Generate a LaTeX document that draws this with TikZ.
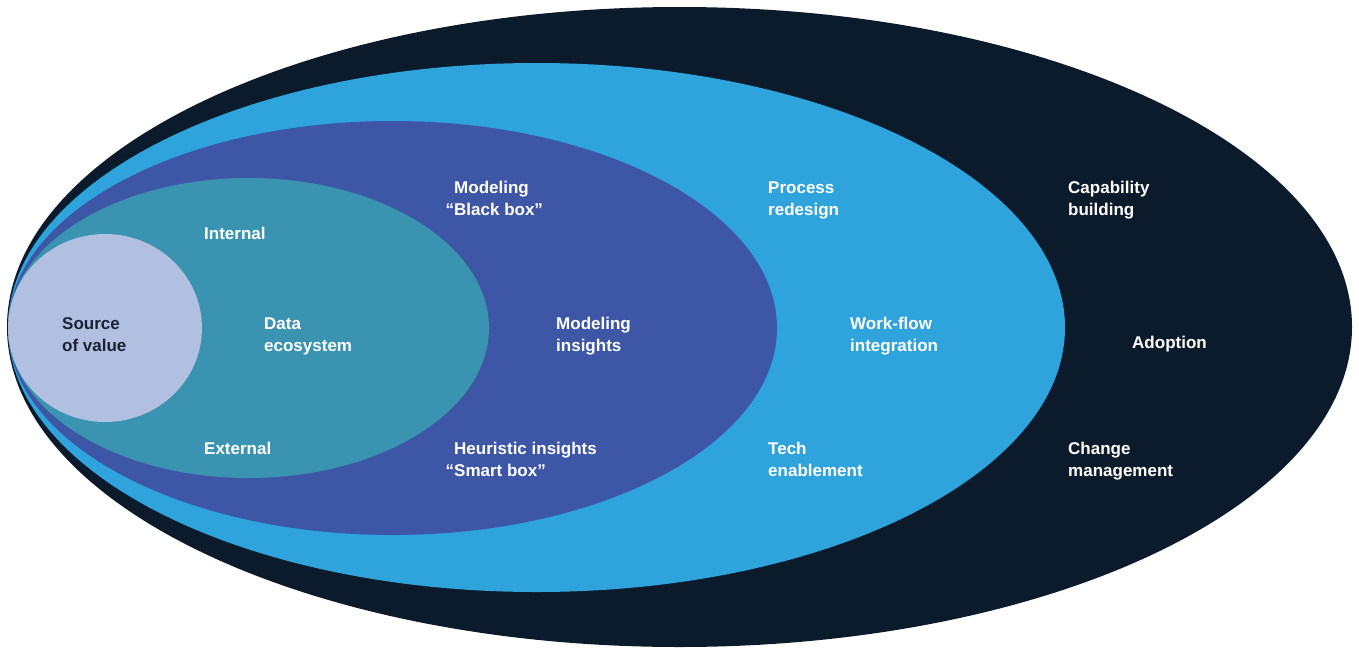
\documentclass[tikz,border=0pt]{standalone}
\usepackage{fontspec}
\setmainfont{Liberation Sans}
\definecolor{navy}{HTML}{0B1B2B}
\definecolor{skyblue}{HTML}{2EA3DC}
\definecolor{royal}{HTML}{3D56A6}
\definecolor{tealc}{HTML}{3A93B1}
\definecolor{lavender}{HTML}{B1BFE1}
\definecolor{inkdark}{HTML}{1B2333}
\begin{document}
\begin{tikzpicture}[x=1pt,y=-1pt,
  lbl/.style={anchor=base west, inner sep=0pt, align=left, text=white,
    font=\bfseries\fontsize{17}{22}\selectfont}]
\useasboundingbox (0,0) rectangle (1359,648);
\fill[navy] (679.5,327) ellipse [x radius=672.5pt, y radius=320pt];
\fill[skyblue] (536.5,327.5) ellipse [x radius=528.5pt, y radius=264.5pt];
\fill[royal] (392.5,328) ellipse [x radius=384.5pt, y radius=207pt];
\fill[tealc] (248.5,328) ellipse [x radius=240.5pt, y radius=150pt];
\fill[lavender] (105,328) ellipse [x radius=97pt, y radius=94pt];
% two-line labels: base anchor is the baseline of the last line
\node[lbl, text=inkdark] (src) at (62,351) {Source\\of value};
\node[lbl] (int) at (204,239) {Internal};
\node[lbl] (data) at (264,351) {Data\\ecosystem};
\node[lbl] (ext) at (204,454) {External};
\node[lbl] (mbb) at (454,215) {Modeling\\\llap{“}Black box”};
\node[lbl] (mins) at (556,351) {Modeling\\insights};
\node[lbl] (heur) at (454,476) {Heuristic insights\\\llap{“}Smart box”};
\node[lbl] (proc) at (768,215) {Process\\redesign};
\node[lbl] (wf) at (850,351) {Work-flow\\integration};
\node[lbl] (tech) at (768,476) {Tech\\enablement};
\node[lbl] (cap) at (1068,215) {Capability\\building};
\node[lbl] (adop) at (1132,348) {Adoption};
\node[lbl] (chg) at (1068,476) {Change\\management};
\end{tikzpicture}
\end{document}
